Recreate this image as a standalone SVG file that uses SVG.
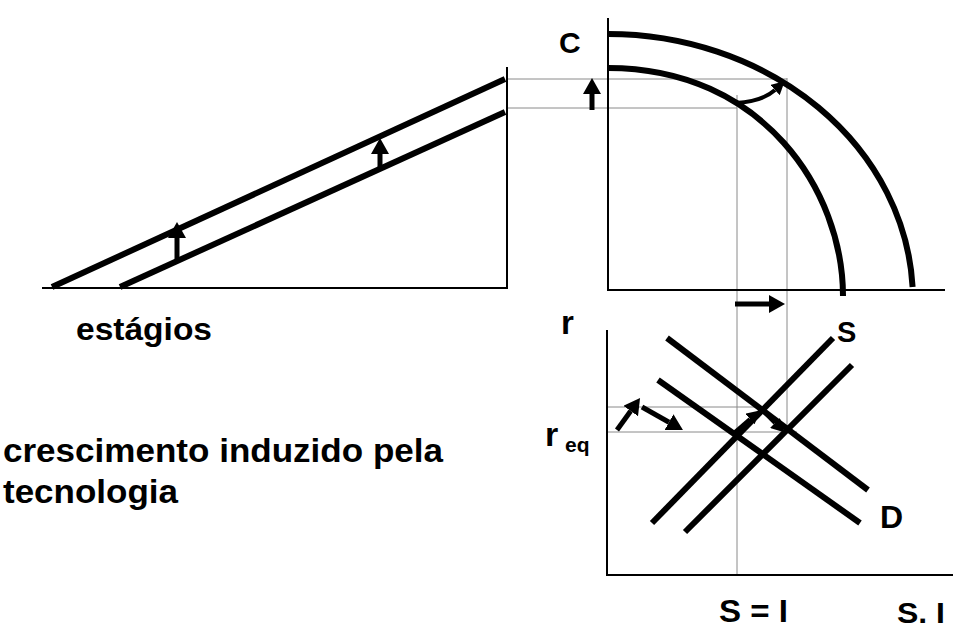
<svg xmlns="http://www.w3.org/2000/svg" width="953" height="630" viewBox="0 0 953 630">
  <style>
    .thick { stroke: #000; stroke-width: 6; fill: none; }
    .axis { stroke: #000; stroke-width: 2; fill: none; }
    .thin { stroke: #8a8a8a; stroke-width: 1; fill: none; }
    .arr { stroke: #000; stroke-width: 5; fill: none; marker-end: url(#ah); }
    .arrs { stroke: #000; stroke-width: 4; fill: none; marker-end: url(#ahs); }
    text { font-family: "Liberation Sans", Arial, sans-serif; font-weight: bold; fill: #000; }
  </style>
  <defs>
    <marker id="ah" markerUnits="userSpaceOnUse" markerWidth="16" markerHeight="18" viewBox="0 0 16 18" refX="0" refY="9" orient="auto">
      <path d="M0,0 L16,9 L0,18 z" fill="#000"/>
    </marker>
    <marker id="ahs" markerUnits="userSpaceOnUse" markerWidth="13" markerHeight="14" viewBox="0 0 13 14" refX="0" refY="7" orient="auto">
      <path d="M0,0 L13,7 L0,14 z" fill="#000"/>
    </marker>
  </defs>

  <rect width="953" height="630" fill="#fff"/>

  <!-- guide lines -->
  <g id="guides">
    <line class="thin" x1="507" y1="79" x2="787" y2="79"/>
    <line class="thin" x1="507" y1="108" x2="737" y2="108"/>
    <line class="thin" x1="737" y1="95" x2="737" y2="575"/>
    <line class="thin" x1="787" y1="78" x2="787" y2="433"/>
    <line class="thin" x1="607" y1="407" x2="763" y2="407"/>
    <line class="thin" x1="607" y1="432" x2="797" y2="432"/>
  </g>

  <!-- left chart: stages -->
  <g id="stages-chart">
    <line class="axis" x1="42" y1="288" x2="508" y2="288"/>
    <line class="axis" x1="507" y1="67" x2="507" y2="289"/>
    <line class="thick" x1="52" y1="287" x2="505" y2="79"/>
    <line class="thick" x1="120" y1="287" x2="505" y2="112"/>
  </g>

  <!-- top right chart: frontier -->
  <g id="frontier-chart">
    <line class="axis" x1="608" y1="18" x2="608" y2="290"/>
    <line class="axis" x1="607" y1="290" x2="945" y2="290"/>
    <path class="thick" d="M608,34 A305,266 0 0 1 912.6,287"/>
    <path class="thick" d="M608,68 C763,68 843,191 843,296"/>
  </g>

  <!-- bottom chart: S, D -->
  <g id="market-chart">
    <line class="axis" x1="607" y1="330" x2="607" y2="576"/>
    <line class="axis" x1="606" y1="575" x2="953" y2="575"/>
    <line class="thick" x1="667" y1="338" x2="868" y2="490"/>
    <line class="thick" x1="658" y1="380" x2="860" y2="523"/>
    <line class="thick" x1="652" y1="523" x2="833" y2="338"/>
    <line class="thick" x1="685" y1="532" x2="852" y2="365"/>
  </g>

  <!-- arrows -->
  <g id="connectors">
    <line class="arr" x1="177" y1="259" x2="177" y2="238"/>
    <line class="arr" x1="380" y1="168" x2="380" y2="154"/>
    <line class="arr" x1="592" y1="110" x2="592" y2="94"/>
    <line class="arr" x1="735" y1="304" x2="769" y2="304"/>
    <path class="arrs" d="M736,103 C752,102 765,99 775,90"/>
    <line class="arr" x1="617" y1="430" x2="630.7" y2="411"/>
    <line class="arr" x1="642" y1="407" x2="669" y2="422.2"/>
    <line class="arrs" x1="735" y1="432" x2="750" y2="419"/>
    <line class="arrs" x1="763" y1="411" x2="775" y2="423"/>
  </g>

  <!-- labels -->
  <g id="labels">
    <text x="76" y="340" font-size="32" textLength="136" lengthAdjust="spacingAndGlyphs">estágios</text>
    <text x="3" y="462" font-size="34" textLength="440" lengthAdjust="spacingAndGlyphs">crescimento induzido pela</text>
    <text x="3" y="503" font-size="34" textLength="175" lengthAdjust="spacingAndGlyphs">tecnologia</text>
    <text x="559" y="53" font-size="30">C</text>
    <text x="561" y="334" font-size="33">r</text>
    <text x="545" y="446" font-size="34">r</text>
    <text x="565" y="452" font-size="21">eq</text>
    <text x="837" y="342" font-size="29">S</text>
    <text x="880" y="528" font-size="32">D</text>
    <text x="719" y="622" font-size="31" textLength="69" lengthAdjust="spacingAndGlyphs">S = I</text>
    <text x="897" y="623" font-size="30" textLength="48" lengthAdjust="spacingAndGlyphs">S. I</text>
  </g>
</svg>
